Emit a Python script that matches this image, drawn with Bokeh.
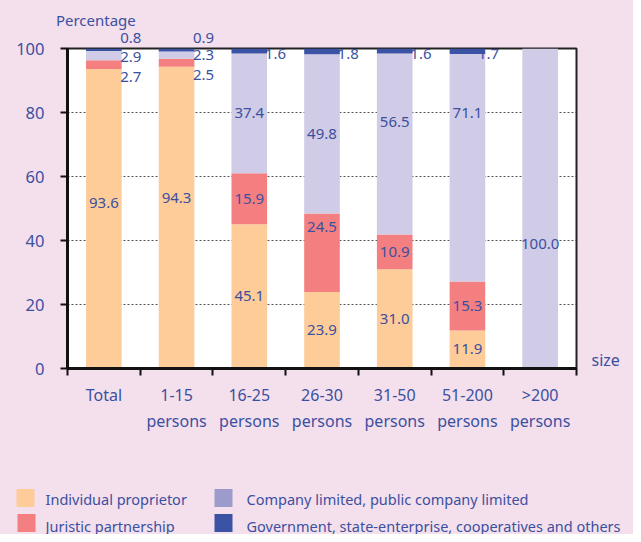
from bokeh.plotting import figure
from bokeh.models import (ColumnDataSource, FixedTicker, Range1d, LabelSet, LinearAxis)
from bokeh.layouts import column
from bokeh.embed import file_html
from bokeh.resources import INLINE
from bokeh.core.properties import value

# ---------------- data ----------------
categories = ["Total", "1-15\npersons", "16-25\npersons", "26-30\npersons",
              "31-50\npersons", "51-200\npersons", ">200\npersons"]
individual = [93.6, 94.3, 45.1, 23.9, 31.0, 11.9, 0.0]
juristic = [2.7, 2.5, 15.9, 24.5, 10.9, 15.3, 0.0]
company = [2.9, 2.3, 37.4, 49.8, 56.5, 71.1, 100.0]
government = [0.8, 0.9, 1.6, 1.8, 1.6, 1.7, 0.0]
series_names = ["Individual proprietor", "Juristic partnership",
                "Company limited, public company limited",
                "Government, state-enterprise, cooperatives and others"]
y_ticks = [0, 20, 40, 60, 80, 100]
y_title = "Percentage"
x_title = "size"

# ---------------- styles ----------------
BG = "#f4dfec"
TXT = "#3b50a0"
FONT = "Noto Sans"
bar_colors = ["#fdcc99", "#f47f80", "#d0cbe6", "#3a53a4"]
legend_colors = ["#fdcc99", "#f47f80", "#9c9bcb", "#3a53a4"]

n = len(categories)
xs = [i + 0.5 for i in range(n)]

src = ColumnDataSource(dict(x=xs, ind=individual, jur=juristic, com=company, gov=government))

p = figure(width=633, height=473, x_range=Range1d(0, n), y_range=Range1d(0, 100),
           output_backend="svg", toolbar_location=None,
           min_border_left=67, min_border_right=57, min_border_top=48, min_border_bottom=105,
           background_fill_color="white", border_fill_color=BG,
           outline_line_color="#222222", outline_line_width=2)

p.vbar_stack(["ind", "jur", "com", "gov"], x="x", width=0.49, color=bar_colors,
             line_color=None, source=src)

# y axis
p.yaxis.ticker = FixedTicker(ticks=y_ticks, minor_ticks=[])
p.yaxis.axis_line_width = 3
p.yaxis.axis_line_color = "#111111"
p.yaxis.major_tick_out = 7
p.yaxis.major_tick_in = 0
p.yaxis.major_tick_line_width = 2
p.yaxis.major_tick_line_color = "#111111"
p.yaxis.major_label_text_font_size = "16.5px"
p.yaxis.major_label_text_color = TXT
p.yaxis.major_label_text_font = FONT
p.yaxis.major_label_standoff = 16

# x axis
p.xaxis.ticker = FixedTicker(ticks=xs, minor_ticks=list(range(n + 1)))
p.xaxis.major_label_overrides = {x: c for x, c in zip(xs, categories)}
p.xaxis.axis_line_width = 3
p.xaxis.axis_line_color = "#111111"
p.xaxis.major_tick_line_color = None
p.xaxis.major_tick_out = 0
p.xaxis.major_tick_in = 0
p.xaxis.minor_tick_out = 7
p.xaxis.minor_tick_in = 0
p.xaxis.minor_tick_line_width = 2
p.xaxis.minor_tick_line_color = "#111111"
p.xaxis.major_label_text_font_size = "16px"
p.xaxis.major_label_text_color = TXT
p.xaxis.major_label_text_font = FONT
p.xaxis.major_label_text_line_height = 1.2
p.xaxis.major_label_standoff = 8

p.ygrid.ticker = FixedTicker(ticks=y_ticks, minor_ticks=[])
p.ygrid.grid_line_color = "#555555"
p.ygrid.grid_line_dash = "2 2"
p.ygrid.grid_line_width = 1
p.xgrid.grid_line_color = None

# ---------------- value labels ----------------
adjust = {(0, 0): 5.0, (1, 0): 6.0, (3, 1): 8.0, (4, 2): 7.0, (5, 2): 17.0, (6, 2): -11.0}
gov_dx = {2: 0.36, 3: 0.36, 4: 0.36, 5: 0.29}
lx, ly, lt = [], [], []
top_x, top_t = [], []
for i in range(n):
    vals = [individual[i], juristic[i], company[i], government[i]]
    base = 0.0
    small = 0 < juristic[i] < 5
    for s, v in enumerate(vals):
        mid = base + v / 2
        base += v
        if v <= 0:
            continue
        if small and s >= 1:
            y0 = individual[i] - 2.6 + 6.3 * (s - 1)
            if y0 > 100:
                top_x.append(xs[i] + 0.37)
                top_t.append(f"{v:.1f}")
                continue
            lx.append(xs[i] + 0.37)
            ly.append(y0)
        elif s == 3:
            lx.append(xs[i] + gov_dx.get(i, 0.35))
            ly.append(100 - 1.8)
        else:
            lx.append(xs[i])
            ly.append(mid + adjust.get((i, s), 0.0))
        lt.append(f"{v:.1f}")

lab_src = ColumnDataSource(dict(x=lx, y=ly, t=lt))
p.add_layout(LabelSet(x="x", y="y", text="t", source=lab_src, text_align="center",
                      text_baseline="middle", text_font_size="15px",
                      text_color=TXT, text_font=value(FONT)))

# values above the frame (top axis)
top_ax = LinearAxis(ticker=FixedTicker(ticks=top_x, minor_ticks=[]),
                    major_label_overrides={x: t for x, t in zip(top_x, top_t)})
top_ax.axis_line_color = None
top_ax.major_tick_line_color = None
top_ax.minor_tick_line_color = None
top_ax.major_tick_out = 0
top_ax.major_tick_in = 0
top_ax.major_label_standoff = 6
top_ax.major_label_text_font_size = "15px"
top_ax.major_label_text_color = TXT
top_ax.major_label_text_font = FONT
p.add_layout(top_ax, "above")

# "Percentage" (second top axis)
pct_x = [0.39]
pct_ax = LinearAxis(ticker=FixedTicker(ticks=pct_x, minor_ticks=[]),
                    major_label_overrides={pct_x[0]: y_title})
pct_ax.axis_line_color = None
pct_ax.major_tick_line_color = None
pct_ax.minor_tick_line_color = None
pct_ax.major_tick_out = 0
pct_ax.major_tick_in = 0
pct_ax.major_label_standoff = 0
pct_ax.major_label_text_font_size = "15px"
pct_ax.major_label_text_color = TXT
pct_ax.major_label_text_font = FONT
p.add_layout(pct_ax, "above")

# "size" (right axis)
size_y = [2.8]
size_ax = LinearAxis(ticker=FixedTicker(ticks=size_y, minor_ticks=[]),
                     major_label_overrides={size_y[0]: x_title})
size_ax.axis_line_color = None
size_ax.major_tick_line_color = None
size_ax.minor_tick_line_color = None
size_ax.major_tick_out = 0
size_ax.major_tick_in = 0
size_ax.major_label_standoff = 15
size_ax.major_label_text_font_size = "16px"
size_ax.major_label_text_color = TXT
size_ax.major_label_text_font = FONT
p.add_layout(size_ax, "right")

# ---------------- legend ----------------
leg = figure(width=633, height=61, x_range=Range1d(0, 633), y_range=Range1d(61, 0),
             output_backend="svg", toolbar_location=None,
             x_axis_location=None, y_axis_location=None,
             min_border=0, min_border_left=0, min_border_right=0,
             min_border_top=0, min_border_bottom=0,
             background_fill_color=BG, border_fill_color=BG,
             outline_line_color=None)
leg.xgrid.grid_line_color = None
leg.ygrid.grid_line_color = None
for fig in (p, leg):
    if "frame_align" in fig.properties():
        fig.frame_align = False

sw_left = [16, 17, 214, 214]
sw_top = [15.5, 40.5, 15.5, 40.5]
leg_src = ColumnDataSource(dict(
    left=sw_left, right=[l + 18 for l in sw_left],
    top=sw_top, bottom=[t + 18 for t in sw_top],
    color=legend_colors,
    tx=[45, 45, 246, 246], ty=[25.5, 52, 25.5, 52], name=series_names))
leg.quad(left="left", right="right", top="top", bottom="bottom", color="color",
         line_color=None, source=leg_src)
leg.text(x="tx", y="ty", text="name", source=leg_src, text_baseline="middle",
         text_align="left", text_font_size="14.5px", text_color=TXT,
         text_font=value(FONT))

layout = column(p, leg, spacing=0, styles={"background-color": BG})
open("out.html", "w").write(file_html(layout, INLINE))
